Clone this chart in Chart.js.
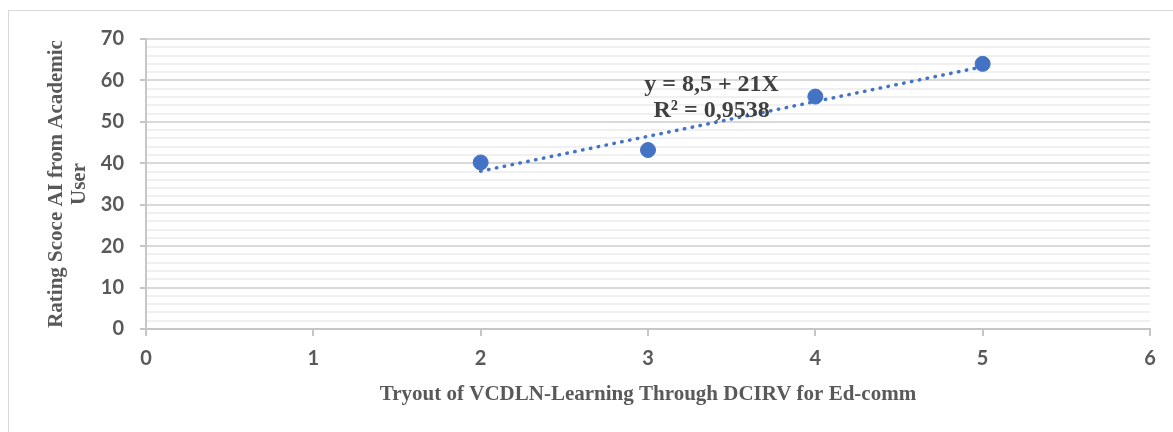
<!DOCTYPE html>
<html>
<head>
<meta charset="utf-8">
<script src="https://cdn.jsdelivr.net/npm/chart.js@4.4.0/dist/chart.umd.min.js"></script>
<style>
    html, body { margin: 0; padding: 0; background: #fff; }
    #wrap { position: relative; width: 1173px; height: 432px; overflow: hidden; }
    #frame { position: absolute; left: 8px; top: 10px; right: -2px; bottom: -2px; border-top: 1px solid #d9d9d9; border-left: 1px solid #d9d9d9; }
    #grafico { position: absolute; left: 0; top: 0; }
</style>
</head>
<body>
<div id="wrap">
    <div id="frame"></div>
    <canvas id="grafico" width="1173" height="432"></canvas>
</div>
<script>
// dados
const tryouts = [2, 3, 4, 5];
const ratings = [40.2, 43.2, 56.1, 64.0];
const trendX = [2, 5];
const trendY = [38.1, 63.3];
const xTicks = [0, 1, 2, 3, 4, 5, 6];
const yTicks = [0, 10, 20, 30, 40, 50, 60, 70];
const equationLines = ['y = 8,5 + 21X', 'R² = 0,9538'];

const azul = '#4472C4';
const cinzaTexto = '#595959';
const cinzaEixo = '#c6c6c6';

// rótulo da equação da linha de tendência
const rotuloEquacao = {
    id: 'rotuloEquacao',
    afterDatasetsDraw(chart) {
        const { ctx, scales: { x, y } } = chart;
        const px = x.getPixelForValue(3.38);
        const py = y.getPixelForValue(58.9);
        ctx.save();
        ctx.font = 'bold 24px "Liberation Serif"';
        ctx.fillStyle = '#404040';
        ctx.textAlign = 'center';
        ctx.textBaseline = 'middle';
        equationLines.forEach((t, i) => ctx.fillText(t, px, py + i * 26));
        ctx.restore();
    }
};

const ctx = document.getElementById('grafico').getContext('2d');

new Chart(ctx, {
    type: 'scatter',
    data: {
        datasets: [
            {
                label: 'Rating',
                data: tryouts.map((v, i) => ({ x: v, y: ratings[i] })),
                backgroundColor: azul,
                borderColor: azul,
                pointRadius: 7.5,
                pointHoverRadius: 7.5,
                order: 0
            },
            {
                label: 'Linear',
                type: 'line',
                data: trendX.map((v, i) => ({ x: v, y: trendY[i] })),
                borderColor: azul,
                borderWidth: 3.5,
                borderDash: [0.5, 7.5],
                borderCapStyle: 'round',
                pointRadius: 0,
                fill: false,
                order: 1
            }
        ]
    },
    options: {
        responsive: false,
        animation: false,
        devicePixelRatio: 1,
        layout: { padding: { top: 39, right: 23, left: 0, bottom: 0 } },
        plugins: {
            legend: { display: false },
            tooltip: { enabled: false }
        },
        scales: {
            x: {
                type: 'linear',
                min: 0,
                max: 6,
                afterBuildTicks: scale => { scale.ticks = xTicks.map(v => ({ value: v })); },
                afterFit: scale => { scale.height = 103; },
                border: { color: cinzaEixo, width: 2 },
                grid: { drawOnChartArea: false, drawTicks: true, tickLength: 7, color: cinzaEixo, lineWidth: 2 },
                ticks: {
                    color: cinzaTexto,
                    font: { family: 'Lato', weight: 'bold', size: 20 },
                    padding: 11,
                    maxRotation: 0
                },
                title: {
                    display: true,
                    text: 'Tryout of VCDLN-Learning Through DCIRV for Ed-comm',
                    color: cinzaTexto,
                    font: { family: 'Liberation Serif', weight: 'bold', size: 21, lineHeight: 1.1 },
                    padding: { top: 0, bottom: 26 }
                }
            },
            y: {
                type: 'linear',
                min: 0,
                max: 70,
                afterFit: scale => { scale.width = 146; },
                border: { color: cinzaEixo, width: 2 },
                grid: {
                    drawTicks: true,
                    tickLength: 6,
                    color: c => yTicks.includes(c.tick.value) ? '#d9d9d9' : '#f0f0f0',
                    tickColor: c => yTicks.includes(c.tick.value) ? cinzaEixo : 'rgba(0,0,0,0)',
                    lineWidth: 2
                },
                ticks: {
                    stepSize: 2,
                    maxTicksLimit: 100,
                    autoSkip: false,
                    color: cinzaTexto,
                    font: { family: 'Lato', weight: 'bold', size: 20 },
                    padding: 16,
                    // linhas menores ficam sem rótulo, mas mantêm a grade
                    callback: v => yTicks.includes(v) ? String(v) : ''
                },
                title: {
                    display: true,
                    text: ['Rating Scoce AI from Academic', 'User'],
                    color: cinzaTexto,
                    font: { family: 'Liberation Serif', weight: 'bold', size: 21, lineHeight: 1.1 },
                    padding: { top: 45, bottom: 0 }
                }
            }
        }
    },
    plugins: [rotuloEquacao]
});
</script>
</body>
</html>
